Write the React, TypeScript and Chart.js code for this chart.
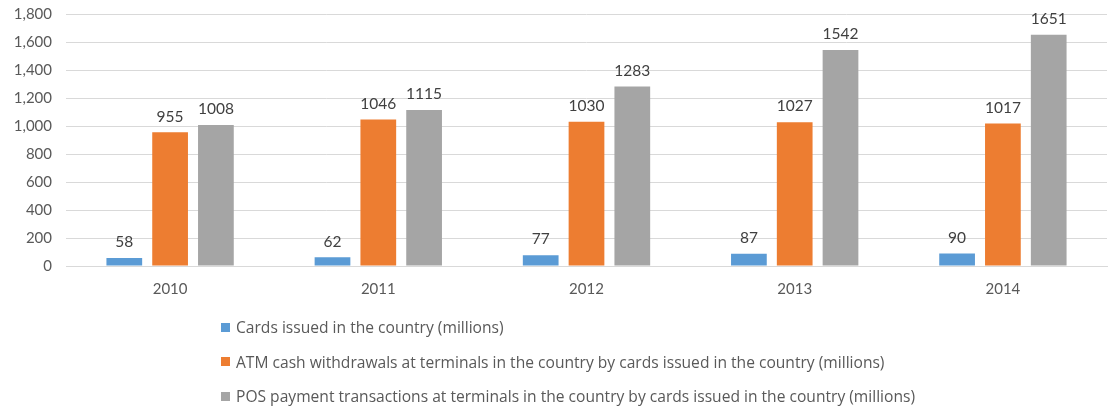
import React, { useEffect, useRef } from "react";
import { Chart, registerables } from "chart.js";

Chart.register(...registerables);

const categories = ["2010", "2011", "2012", "2013", "2014"];
const cardsIssued = [58, 62, 77, 87, 90];
const atmWithdrawals = [955, 1046, 1030, 1027, 1017];
const posTransactions = [1008, 1115, 1283, 1542, 1651];
const seriesNames = [
  "Cards issued in the country (millions)",
  "ATM cash withdrawals at terminals in the country by cards issued in the country (millions)",
  "POS payment transactions at terminals in the country by cards issued in the country (millions)",
];
const seriesColors = ["#5B9BD5", "#ED7D31", "#A5A5A5"];

const FONT = "Lato, 'Open Sans', sans-serif";
const LEGEND_FONT = "'Open Sans', Lato, sans-serif";

const valueLabels = {
  id: "valueLabels",
  afterDatasetsDraw(chart: any) {
    const ctx = chart.ctx;
    ctx.save();
    ctx.font = `15.5px ${FONT}`;
    ctx.fillStyle = "#404040";
    ctx.textAlign = "center";
    ctx.textBaseline = "bottom";
    chart.data.datasets.forEach((ds: any, i: number) => {
      const meta = chart.getDatasetMeta(i);
      meta.data.forEach((bar: any, j: number) => {
        ctx.fillText(String(ds.data[j]), bar.x, bar.y - 8);
      });
    });
    ctx.restore();
  },
};

export default function App() {
  const ref = useRef<HTMLCanvasElement>(null);
  useEffect(() => {
    document.body.style.margin = "0";
    const data = [cardsIssued, atmWithdrawals, posTransactions];
    const chart = new Chart(ref.current!, {
      type: "bar",
      data: {
        labels: categories,
        datasets: data.map((d, i) => ({
          label: seriesNames[i],
          data: d,
          backgroundColor: seriesColors[i],
          categoryPercentage: 0.66,
          barPercentage: 0.78,
        })),
      },
      options: {
        animation: false,
        responsive: false,
        layout: { padding: { left: 0, right: 2, top: 0, bottom: 103 } },
        plugins: { legend: { display: false }, tooltip: { enabled: false } },
        scales: {
          x: {
            grid: { display: false, drawTicks: false },
            border: { color: "#D9D9D9" },
            ticks: { color: "#595959", font: { size: 15, family: FONT }, padding: 14 },
            afterFit(scale: any) {
              scale.height = 40;
            },
          },
          y: {
            min: 0,
            max: 1800,
            ticks: {
              stepSize: 200,
              color: "#595959",
              font: { size: 15, family: FONT },
              padding: 14,
              callback: (v: any) => Number(v).toLocaleString("en-US"),
            },
            grid: { color: "#D9D9D9", drawTicks: false },
            border: { display: false },
            afterFit(scale: any) {
              scale.width = 66;
              scale.paddingTop = 14;
            },
          },
        },
      },
      plugins: [valueLabels],
    });
    return () => chart.destroy();
  }, []);

  return (
    <div style={{ position: "relative", width: 1109, height: 409, fontFamily: FONT }}>
      <canvas ref={ref} width={1109} height={409} style={{ display: "block" }} />
      <div style={{ position: "absolute", left: 221, top: 317 }}>
        {seriesNames.map((n, i) => (
          <div
            key={n}
            style={{
              display: "flex",
              alignItems: "center",
              height: 34.5,
              fontSize: 15.6,
              fontFamily: LEGEND_FONT,
              color: "#595959",
              whiteSpace: "nowrap",
              marginTop: i === 0 ? -7 : 0,
            }}
          >
            <span
              style={{
                display: "inline-block",
                width: 9,
                height: 9,
                background: seriesColors[i],
                marginRight: 6,
              }}
            />
            {n}
          </div>
        ))}
      </div>
    </div>
  );
}
